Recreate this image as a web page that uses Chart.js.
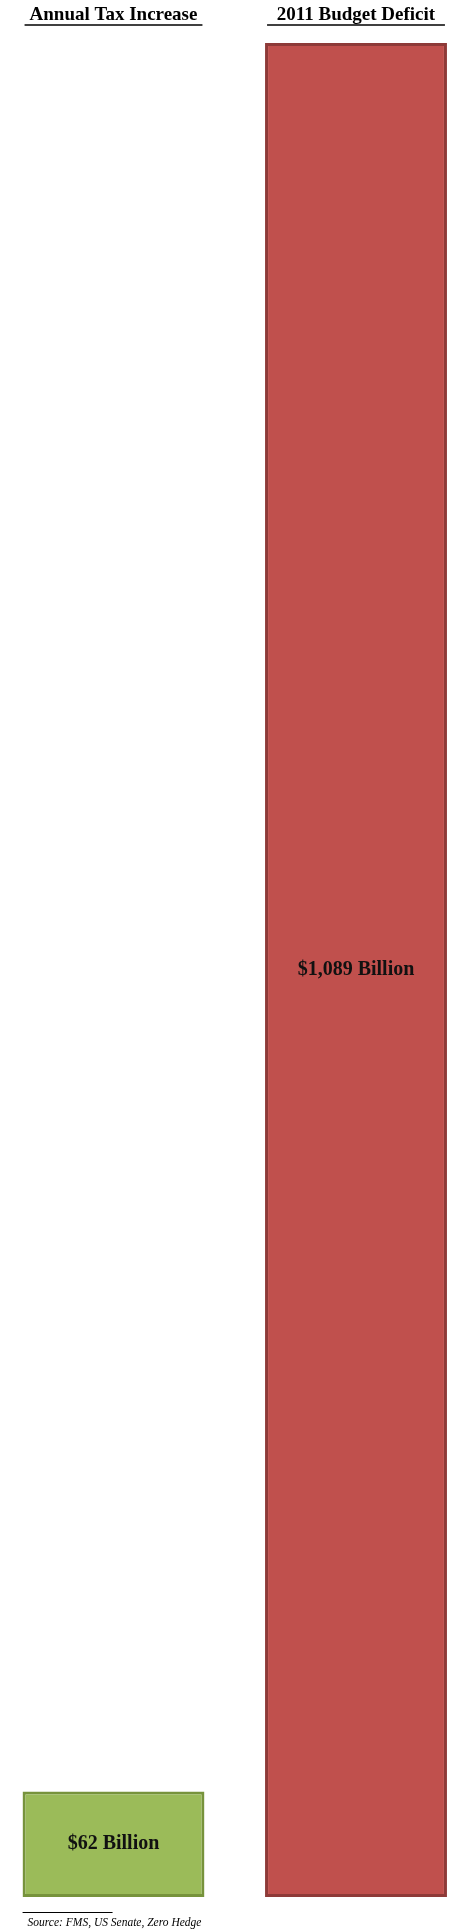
<!DOCTYPE html>
<html>
<head>
<meta charset="utf-8">
<script src="https://cdn.jsdelivr.net/npm/chart.js@4/dist/chart.umd.min.js"></script>
<style>
  html, body { margin: 0; padding: 0; background: #ffffff; }
  #wrap { position: relative; width: 466px; height: 1930px; }
</style>
</head>
<body>
<div id="wrap"><canvas id="c"></canvas></div>
<script>
const categories = ['Annual Tax Increase', '2011 Budget Deficit'];
const values = [62, 1089];
const valueLabels = ['$62 Billion', '$1,089 Billion'];
const fillColors = ['#9BBB59', '#C0504D'];
const edgeColors = ['#77933C', '#8E3A38'];
const sourceNote = 'Source: FMS, US Senate, Zero Hedge';

const SERIF = '"Liberation Serif", "Times New Roman", serif';

const overlay = {
  id: 'overlay',
  afterDatasetsDraw(chart) {
    const ctx = chart.ctx;
    const meta = chart.getDatasetMeta(0);
    const xs = chart.scales.x;
    ctx.save();
    // value labels centred in bars
    ctx.fillStyle = '#111111';
    ctx.font = 'bold 20px ' + SERIF;
    ctx.textAlign = 'center';
    ctx.textBaseline = 'middle';
    meta.data.forEach((bar, i) => {
      const p = bar.getProps(['x', 'y', 'base'], true);
      ctx.fillText(valueLabels[i], p.x, (p.y + p.base) / 2);
    });
    // underlines below category headings
    ctx.strokeStyle = '#000000';
    ctx.lineWidth = 1.6;
    meta.data.forEach((bar, i) => {
      const p = bar.getProps(['x', 'width'], true);
      const cx = xs.getPixelForTick(i);
      const half = p.width / 2 - 2;
      ctx.beginPath();
      ctx.moveTo(cx - half, 25);
      ctx.lineTo(cx + half, 25);
      ctx.stroke();
    });
    // footnote separator + source
    const first = meta.data[0].getProps(['x', 'width'], true);
    const left = first.x - first.width / 2;
    ctx.lineWidth = 1;
    ctx.beginPath();
    ctx.moveTo(left, 1912.5);
    ctx.lineTo(left + 90, 1912.5);
    ctx.stroke();
    ctx.font = 'italic 11.5px ' + SERIF;
    ctx.textAlign = 'left';
    ctx.textBaseline = 'alphabetic';
    ctx.fillStyle = '#000000';
    ctx.fillText(sourceNote, left + 5, 1926);
    ctx.restore();
  }
};

new Chart(document.getElementById('c'), {
  type: 'bar',
  data: {
    labels: categories,
    datasets: [{
      data: values,
      backgroundColor: fillColors,
      borderColor: edgeColors,
      borderWidth: 3,
      borderSkipped: false,
      barPercentage: 0.75,
      categoryPercentage: 1,
      clip: false
    }]
  },
  options: {
    responsive: true,
    maintainAspectRatio: false,
    animation: false,
    layout: { padding: { left: 113.5, right: 110, top: 0, bottom: 33 } },
    plugins: { legend: { display: false }, tooltip: { enabled: false }, title: { display: false } },
    scales: {
      x: {
        type: 'category',
        position: 'top',
        offset: false,
        grid: { display: false, drawTicks: false },
        border: { display: false },
        afterFit(scale) { scale.height = 43; },
        ticks: {
          padding: 16.4,
          color: '#000000',
          autoSkip: false,
          maxRotation: 0,
          font: { family: SERIF, size: 19, weight: 'bold' }
        }
      },
      y: {
        display: false,
        min: 0,
        max: Math.max(...values)
      }
    }
  },
  plugins: [overlay]
});
</script>
</body>
</html>
